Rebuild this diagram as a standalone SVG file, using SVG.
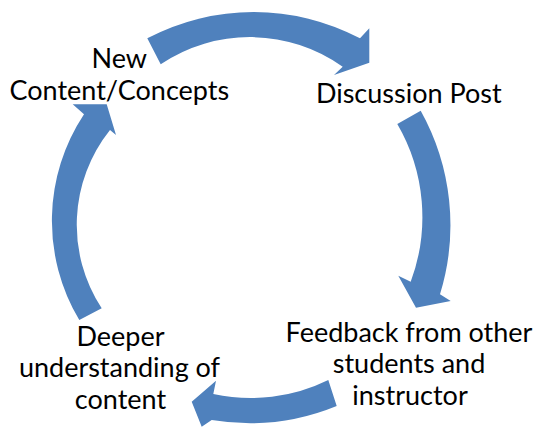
<svg xmlns="http://www.w3.org/2000/svg" width="537" height="428" viewBox="0 0 537 428">
<style>
.arrow{fill:#4F81BD;stroke:none}
.lbl{font-family:Lato,"Liberation Sans",sans-serif;font-size:27px;fill:#000;text-anchor:middle}
</style>
<rect width="537" height="428" fill="#fff"/>
<g id="connectors">
<path id="arrow-top" class="arrow" d="M147.3,38.3 A228,228 0 0 1 360,38.3 L369.3,28.3 L369.3,62.7 L334,75 L342.7,66.7 A160,160 0 0 0 160.7,64.3 Z"/>
<path id="arrow-right" class="arrow" d="M420.7,110.7 A235,235 0 0 1 440,294.3 L450.7,301 L416,307.7 L398.3,275.7 L410.7,281.7 A185,185 0 0 0 397.3,124 Z"/>
<path id="arrow-bottom" class="arrow" d="M336.7,406 A230,230 0 0 1 211.7,420 L201.7,426.7 L191.7,401.7 L216,380.7 L213.3,394 A175,175 0 0 0 328.3,380 Z"/>
<path id="arrow-left" class="arrow" d="M79.3,320 A193,193 0 0 1 84,114.3 L72.7,104.3 L106.7,104.3 L116,135 L110,130 A152,152 0 0 0 101.7,308.3 Z"/>
</g>
<g id="node-new-content">
<text class="lbl" x="119.3" y="68.3">New</text>
<text class="lbl" x="119.3" y="100">Content/Concepts</text>
</g>
<g id="node-discussion-post">
<text class="lbl" x="408.8" y="103">Discussion Post</text>
</g>
<g id="node-feedback">
<text class="lbl" x="409" y="341.7">Feedback from other</text>
<text class="lbl" x="409" y="373.3">students and</text>
<text class="lbl" x="410" y="405">instructor</text>
</g>
<g id="node-deeper">
<text class="lbl" x="120.5" y="345.5">Deeper</text>
<text class="lbl" x="119.5" y="377.3">understanding of</text>
<text class="lbl" x="120.5" y="409">content</text>
</g>
</svg>
